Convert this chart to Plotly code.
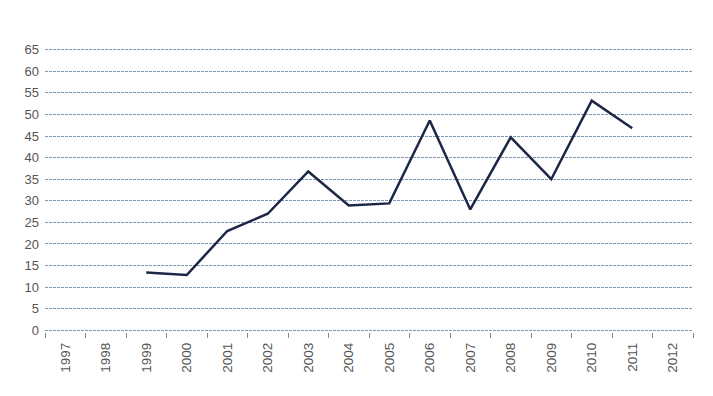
import plotly.graph_objects as go

years = [str(y) for y in range(1997, 2013)]
values = [None, None, 13.4, 12.8, 23.0, 27.0, 36.8, 28.9, 29.4, 48.6, 28.0, 44.7, 35.0, 53.2, 46.8, None]
y_ticks = list(range(0, 70, 5))

fig = go.Figure()
fig.add_trace(go.Scatter(
    x=years, y=values, mode="lines",
    line=dict(color="#1c2646", width=2.5),
    connectgaps=False, showlegend=False,
))

# page body adds an 8px margin, so the figure is sized to fit inside the window
fig.update_layout(
    width=697, height=380,
    margin=dict(l=37, r=12, t=40, b=56, autoexpand=False),
    paper_bgcolor="white", plot_bgcolor="white",
    font=dict(family="Liberation Sans, Arial, sans-serif", size=13, color="#555555"),
)
fig.update_xaxes(
    type="category", categoryorder="array", categoryarray=years,
    range=[-0.5, 15.5], automargin=False,
    tickangle=-90, tickson="boundaries",
    ticks="outside", ticklen=5, tickcolor="#888888", tickwidth=1,
    ticklabelstandoff=7,
    showgrid=False, showline=False, zeroline=False,
    tickfont=dict(size=13.5, color="#555555"),
)
fig.update_yaxes(
    range=[-0.4, 65.4], tickvals=y_ticks, automargin=False,
    showgrid=True, gridcolor="#7f98b5", gridwidth=1, griddash="3px,1px",
    zeroline=False, showline=False, ticks="",
    ticklabelstandoff=5,
    tickfont=dict(size=13, color="#555555"),
)

fig.write_html("out.html")
